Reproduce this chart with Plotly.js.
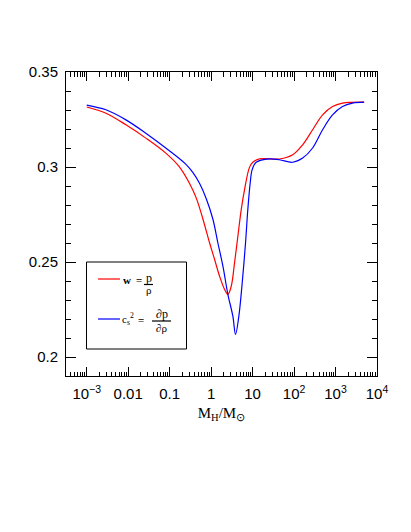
<!DOCTYPE html>
<html>
<head>
<meta charset="utf-8">
<script src="https://cdn.plot.ly/plotly-3.0.1.min.js"></script>
<style>
  html, body { margin: 0; padding: 0; background: #fff; }
  #chart { width: 411px; height: 532px; }
</style>
</head>
<body>
<div id="chart"></div>
<script>
/* ---- data: horizon mass (solar masses) vs w and c_s^2 ---- */
var massW = [0.001, 0.00291, 0.00881, 0.0266, 0.0805, 0.168, 0.304, 0.441, 0.635, 0.92,
             1.213, 1.6, 2.113, 2.535, 3.06, 3.67, 4.41, 5.32, 6.38, 8.41,
             10.1, 14.7, 44.4, 92.5, 161, 280, 488, 847, 1472, 4900];
var wVals = [0.3316, 0.3283, 0.3222, 0.3152, 0.3073, 0.3003, 0.2912, 0.2835, 0.2725, 0.26,
             0.2513, 0.2425, 0.2355, 0.2329, 0.2373, 0.2496, 0.2635, 0.2776, 0.288, 0.2998,
             0.3025, 0.3043, 0.3042, 0.3064, 0.3117, 0.3196, 0.3274, 0.3318, 0.3336, 0.3341];

var massCs = [0.001, 0.00291, 0.00881, 0.0266, 0.0805, 0.244, 0.365, 0.528, 0.767, 1.104,
              1.455, 1.923, 2.535, 3.34, 3.88, 4.66, 5.62, 6.75, 7.67, 8.75,
              9.77, 12.2, 25.5, 44.4, 92.5, 161, 280, 488, 847, 1472, 2565, 4900];
var cs2Vals = [0.3326, 0.3301, 0.3248, 0.3178, 0.31, 0.3015, 0.2970, 0.2913, 0.2832, 0.2725,
               0.26, 0.2478, 0.233, 0.2215, 0.2119, 0.2215, 0.2391, 0.26, 0.2776, 0.2916,
               0.2986, 0.3025, 0.3043, 0.3038, 0.3025, 0.3047, 0.31, 0.3196, 0.3274, 0.3318,
               0.3336, 0.3341];

var xTickVals = [0.001, 0.01, 0.1, 1, 10, 100, 1000, 10000];
var xTickText = ['10<sup>\u22123</sup>', '0.01', '0.1', '1', '10',
                 '10<sup>2</sup>', '10<sup>3</sup>', '10<sup>4</sup>'];

/* minor log ticks 2..9 per decade */
var xMinor = [];
for (var e = -4; e <= 3; e++) {
  for (var d = 2; d <= 9; d++) xMinor.push(d * Math.pow(10, e));
}

/* ---- plot-area pixel helpers for the hand-built legend ---- */
var L = 66, R = 377, T = 72, B = 376;
function fx(p) { return (p - L) / (R - L); }
function fy(p) { return (B - p) / (B - T); }

var sans = 'Liberation Sans, Arial, sans-serif';
var serif = 'Liberation Serif, Times New Roman, serif';

var traces = [
  { x: massW, y: wVals, type: 'scatter', mode: 'lines', name: 'w',
    line: { color: '#ff0000', width: 1.2, shape: 'spline', smoothing: 1 } },
  { x: massCs, y: cs2Vals, type: 'scatter', mode: 'lines', name: 'cs2',
    line: { color: '#0000ff', width: 1.2, shape: 'spline', smoothing: 1 } }
];

function ann(x, y, text, size) {
  return { xref: 'paper', yref: 'paper', x: fx(x), y: fy(y), text: text,
           showarrow: false, xanchor: 'center', yanchor: 'middle',
           font: { family: serif, size: size || 11, color: '#000' } };
}
function seg(x0, x1, y, color) {
  return { type: 'line', xref: 'paper', yref: 'paper', x0: fx(x0), x1: fx(x1),
           y0: fy(y), y1: fy(y), line: { color: color, width: 1.2 } };
}

var layout = {
  width: 411, height: 532,
  margin: { l: L, r: 411 - R, t: T, b: 532 - B },
  paper_bgcolor: '#fff', plot_bgcolor: '#fff',
  showlegend: false,
  xaxis: {
    type: 'log', range: [-3.5, 4.0],
    tickmode: 'array', tickvals: xTickVals, ticktext: xTickText,
    ticks: 'inside', ticklen: 9, tickcolor: '#000', tickwidth: 1,
    showline: true, linecolor: '#000', linewidth: 1, mirror: 'ticks',
    showgrid: false, zeroline: false,
    ticklabelstandoff: 4,
    tickfont: { family: sans, size: 15, color: '#000' },
    minor: { tickmode: 'array', tickvals: xMinor, ticks: 'inside', ticklen: 4.5,
             tickcolor: '#000', tickwidth: 1, showgrid: false },
    title: { text: 'M<sub>H</sub>/M<sub>\u2299</sub>', standoff: 6,
             font: { family: serif, size: 15, color: '#000' } }
  },
  yaxis: {
    range: [0.19, 0.35],
    tickmode: 'linear', tick0: 0.2, dtick: 0.05,
    ticks: 'inside', ticklen: 10, tickcolor: '#000', tickwidth: 1,
    showline: true, linecolor: '#000', linewidth: 1, mirror: 'ticks',
    showgrid: false, zeroline: false,
    ticklabelstandoff: 4,
    tickfont: { family: sans, size: 15, color: '#000' },
    minor: { tick0: 0.19, dtick: 0.01, ticks: 'inside', ticklen: 5,
             tickcolor: '#000', tickwidth: 1, showgrid: false }
  },
  shapes: [
    { type: 'rect', xref: 'paper', yref: 'paper', x0: fx(86.5), x1: fx(186.5),
      y0: fy(349), y1: fy(262), line: { color: '#000', width: 1 }, fillcolor: 'rgba(0,0,0,0)' },
    seg(98, 120, 279, '#ff0000'),
    seg(98, 120, 319, '#0000ff'),
    seg(144, 153, 284.5, '#000'),
    seg(152, 171, 321, '#000')
  ],
  annotations: [
    ann(127, 280, '<b>w</b>', 11),
    ann(138.5, 280, '<b>=</b>', 11),
    ann(148.5, 278, 'p', 12),
    ann(148.5, 290, '\u03c1', 11),
    ann(128, 319, 'c<sub>s</sub><sup>2</sup>', 11),
    ann(140.5, 320, '<b>=</b>', 11),
    ann(161.5, 314, '\u2202p', 12),
    ann(161.5, 328, '\u2202\u03c1', 11)
  ]
};

Plotly.newPlot('chart', traces, layout, { displayModeBar: false, staticPlot: true });
</script>
</body>
</html>
